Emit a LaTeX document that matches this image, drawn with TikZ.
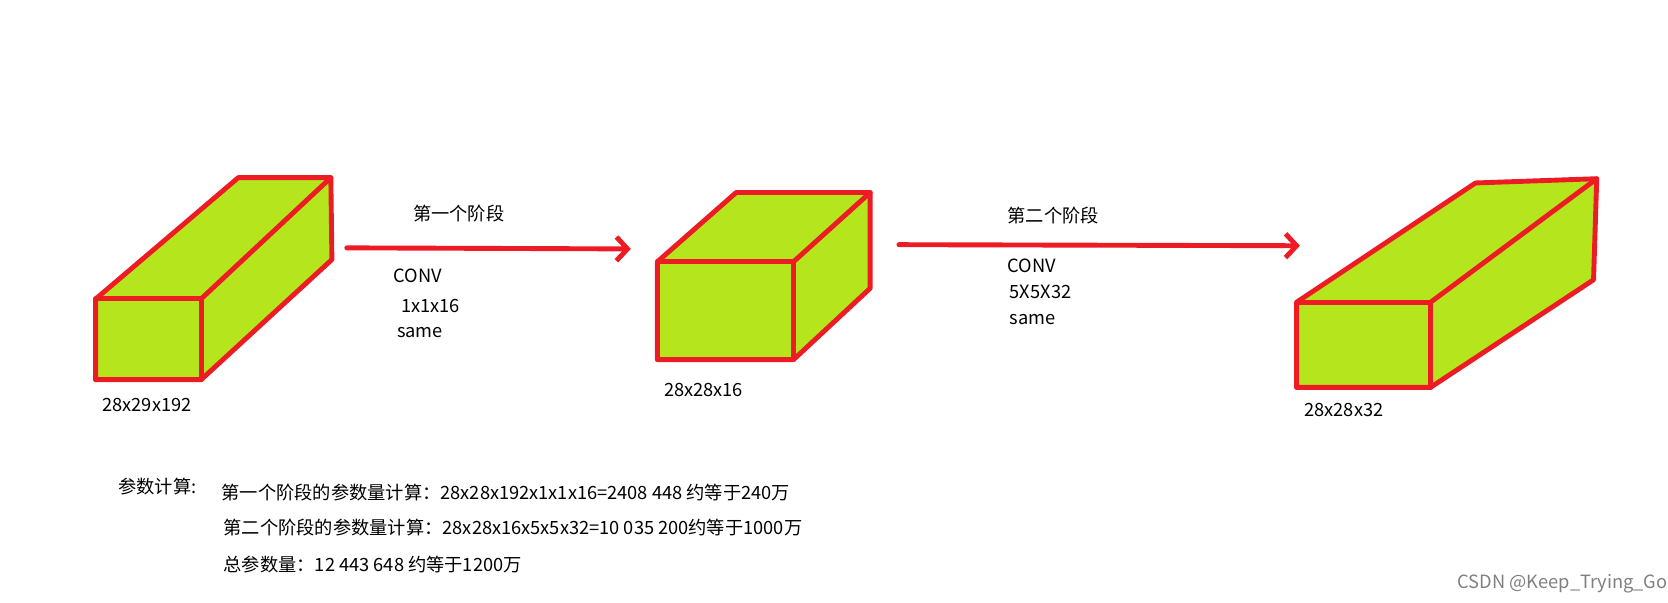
\documentclass[tikz,border=0pt]{standalone}
\usepackage{fontspec}
\setmainfont{Noto Sans CJK SC}
\usetikzlibrary{arrows.meta}
\definecolor{paintred}{RGB}{237,28,36}
\definecolor{limefill}{RGB}{181,230,29}
\tikzset{>={Straight Barb[length=2.6mm,width=5.6mm]}}
\tikzset{box/.style={draw=paintred,fill=limefill,line width=1.15mm,line join=round},
  edge/.style={draw=paintred,line width=1.15mm,line join=round,line cap=round},
  lbl/.style={anchor=west,inner sep=0pt}}
\newcommand{\cuboid}[6]{%
  \coordinate (#1-a) at (#2);
  \coordinate (#1-c) at (#3);
  \coordinate (#1-e) at (#4);
  \coordinate (#1-f) at (#5);
  \coordinate (#1-g) at (#6);
  \filldraw[box] (#1-a) -- (#1-e) -- (#1-f) -- (#1-g) -- (#1-c) -- (#1-a |- #1-c) -- cycle;
  \draw[edge] (#1-a) rectangle (#1-c);
  \draw[edge] (#1-c |- #1-a) -- (#1-f);
}

\begin{document}
\begin{tikzpicture}[x=0.025cm,y=-0.025cm,font=\fontsize{12.2}{14}\selectfont]
      \useasboundingbox (0,0) rectangle (1568,566);
      \cuboid{inA}{90,281}{189,357}{224,167}{311,167}{312,244}
      \cuboid{midB}{618,246}{746,338}{692,181}{818,181}{818,271}
      \cuboid{outC}{1219,284}{1345,364}{1387,172}{1501,168}{1498,263}
      \coordinate (arrA-s) at (326,233);
      \coordinate (arrA-e) at (593,234);
      \coordinate (arrB-s) at (845,230);
      \coordinate (arrB-e) at (1222,231);
      \draw[edge,->] (arrA-s) -- (arrA-e);
      \draw[edge,->] (arrB-s) -- (arrB-e);
      \node[lbl] (stageA) at (388,201) {第一个阶段};
      \node[lbl] (convA) at (370,259) {CONV};
      \node[lbl] (kernA) at (377,288) {1x1x16};
      \node[lbl] (padA) at (373,313) {same};
      \node[lbl] (stageB) at (947,203) {第二个阶段};
      \node[lbl] (convB) at (947,250) {CONV};
      \node[lbl] (kernB) at (949,274) {5X5X32};
      \node[lbl] (padB) at (949,300) {same};
      \node[lbl] (dimA) at (96,381) {28x29x192};
      \node[lbl] (dimB) at (624,367) {28x28x16};
      \node[lbl] (dimC) at (1226,385) {28x28x32};
      \node[lbl] (calc) at (111,457) {参数计算:};
      \node[lbl] (calcA) at (208,463) {第一个阶段的参数量计算：28x28x192x1x1x16=2408 448 约等于240万};
      \node[lbl] (calcB) at (210,496) {第二个阶段的参数量计算：28x28x16x5x5x32=10 035 200约等于1000万};
      \node[lbl] (total) at (210,531) {总参数量：12 443 648 约等于1200万};
      \node[lbl,text=gray] (mark) at (1370,549) {CSDN @Keep\_Trying\_Go};
    \end{tikzpicture}
\end{document}
